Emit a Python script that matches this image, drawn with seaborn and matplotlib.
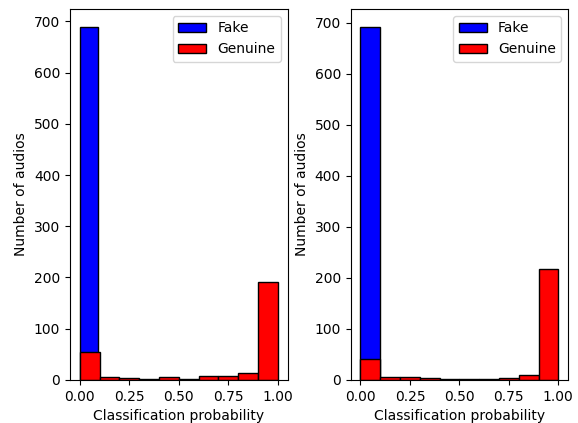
import numpy as np
import pandas as pd
import seaborn as sns
import matplotlib.pyplot as plt

# bin counts (10 bins each)
fake_left = [690, 0, 0, 0, 0, 0, 0, 0, 0, 0]
genuine_left = [55, 5, 3, 1, 6, 2, 8, 8, 14, 192]
fake_right = [693, 0, 0, 0, 0, 0, 0, 0, 0, 0]
genuine_right = [41, 6, 6, 3, 2, 1, 1, 3, 10, 218]

# bin ranges (fake range on the left is slightly narrower)
fake_range_left = (0.0, 0.9)
fake_range_right = (0.0, 1.0)
genuine_range = (0.0, 1.0)


def draw(ax, counts, rng, color, label):
    edges = np.linspace(rng[0], rng[1], len(counts) + 1)
    centers = (edges[:-1] + edges[1:]) / 2
    df = pd.DataFrame({'p': centers, 'n': counts})
    sns.histplot(data=df, x='p', weights='n', bins=len(counts), binrange=rng,
                 color=color, edgecolor='black', alpha=1, linewidth=1,
                 label=label, ax=ax)


fig, axes = plt.subplots(1, 2, figsize=(5.78, 4.23), dpi=100)
fig.subplots_adjust(left=0.121, right=0.983, bottom=0.102, top=0.979, wspace=0.29)

panels = [(fake_left, fake_range_left, genuine_left),
          (fake_right, fake_range_right, genuine_right)]
for ax, (fk, frng, gn) in zip(axes, panels):
    draw(ax, fk, frng, 'blue', 'Fake')
    draw(ax, gn, genuine_range, 'red', 'Genuine')
    ax.set_xlim(-0.05, 1.05)
    ax.set_xticks([0, 0.25, 0.5, 0.75, 1.0])
    ax.set_xticklabels(['0.00', '0.25', '0.50', '0.75', '1.00'])
    ax.set_xlabel('Classification probability')
    ax.set_ylabel('Number of audios')
    ax.legend(loc='upper right')

plt.savefig('out.png', dpi=100)
